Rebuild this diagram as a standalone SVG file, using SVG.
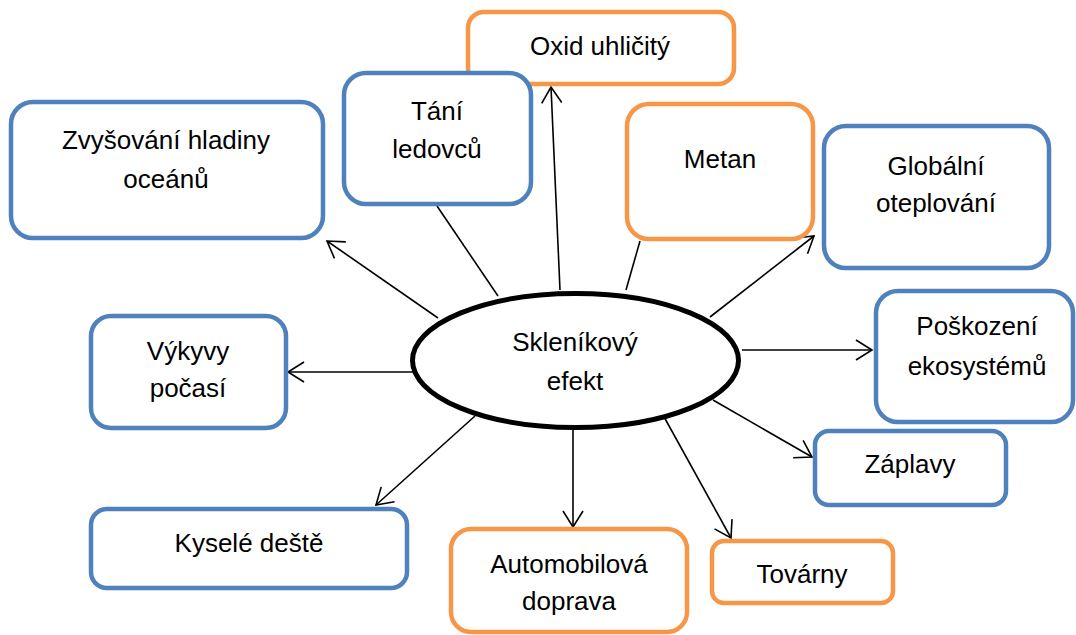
<svg xmlns="http://www.w3.org/2000/svg" width="1076" height="635" viewBox="0 0 1076 635">
<defs>
<style>
.b{fill:#fff;stroke:#4F81BD;stroke-width:4.5}
.o{fill:#fff;stroke:#F79646;stroke-width:4.5}
.t{font-family:"Liberation Sans",Arial,sans-serif;font-size:26px;fill:#000;text-anchor:middle}
.c{stroke:#000;stroke-width:1.6;fill:none}
.a{marker-end:url(#ah)}
</style>
<marker id="ah" markerUnits="userSpaceOnUse" markerWidth="20" markerHeight="24" viewBox="-18 -12 20 24" refX="0" refY="0" orient="auto">
<path d="M-16,-10 L0,0 L-16,10" fill="none" stroke="#000" stroke-width="1.6"/>
</marker>
</defs>
<rect width="1076" height="635" fill="#fff"/>
<g id="connectors">
<line class="c a" x1="438" y1="318" x2="327" y2="241"/>
<line class="c" x1="498" y1="296" x2="437" y2="206"/>
<line class="c a" x1="560" y1="290" x2="551" y2="87"/>
<line class="c" x1="626" y1="290" x2="640" y2="241"/>
<line class="c a" x1="710" y1="317" x2="814" y2="236"/>
<line class="c a" x1="742" y1="350" x2="872" y2="350"/>
<line class="c a" x1="713" y1="400" x2="812" y2="457"/>
<line class="c a" x1="413" y1="372" x2="288" y2="372"/>
<line class="c a" x1="475" y1="416" x2="376" y2="505"/>
<line class="c a" x1="573" y1="428" x2="573" y2="527"/>
<line class="c a" x1="663" y1="415" x2="731" y2="538"/>
</g>
<g id="n-center">
<ellipse cx="575.5" cy="360.5" rx="163" ry="67" fill="#fff" stroke="#000" stroke-width="5"/>
<text class="t" x="575" y="351">Skleníkový</text>
<text class="t" x="575" y="390">efekt</text>
</g>
<g id="n-oxid">
<rect class="o" x="468" y="12" width="266" height="72" rx="16"/>
<text class="t" x="600" y="55">Oxid uhličitý</text>
</g>
<g id="n-oceany">
<rect class="b" x="11" y="102" width="312" height="136" rx="22"/>
<text class="t" x="166" y="149">Zvyšování hladiny</text>
<text class="t" x="166" y="188">oceánů</text>
</g>
<g id="n-ledovce">
<rect class="b" x="344" y="73" width="187" height="131" rx="22"/>
<text class="t" x="437" y="120">Tání</text>
<text class="t" x="437" y="158">ledovců</text>
</g>
<g id="n-metan">
<rect class="o" x="627" y="104" width="186" height="135" rx="22"/>
<text class="t" x="720" y="168">Metan</text>
</g>
<g id="n-globalni">
<rect class="b" x="824" y="126" width="225" height="142" rx="22"/>
<text class="t" x="936" y="175">Globální</text>
<text class="t" x="936" y="212">oteplování</text>
</g>
<g id="n-ekosystemy">
<rect class="b" x="876" y="291" width="197" height="131" rx="22"/>
<text class="t" x="977" y="335">Poškození</text>
<text class="t" x="977" y="375">ekosystémů</text>
</g>
<g id="n-zaplavy">
<rect class="b" x="815" y="431" width="191" height="74" rx="14"/>
<text class="t" x="910" y="473">Záplavy</text>
</g>
<g id="n-vykyvy">
<rect class="b" x="91" y="316" width="195" height="112" rx="20"/>
<text class="t" x="188" y="360">Výkyvy</text>
<text class="t" x="188" y="397">počasí</text>
</g>
<g id="n-deste">
<rect class="b" x="91" y="509" width="316" height="79" rx="16"/>
<text class="t" x="249" y="552">Kyselé deště</text>
</g>
<g id="n-doprava">
<rect class="o" x="451" y="529" width="236" height="103" rx="20"/>
<text class="t" x="569" y="573">Automobilová</text>
<text class="t" x="569" y="610">doprava</text>
</g>
<g id="n-tovarny">
<rect class="o" x="712" y="541" width="181" height="62" rx="12"/>
<text class="t" x="802" y="583">Továrny</text>
</g>
</svg>
